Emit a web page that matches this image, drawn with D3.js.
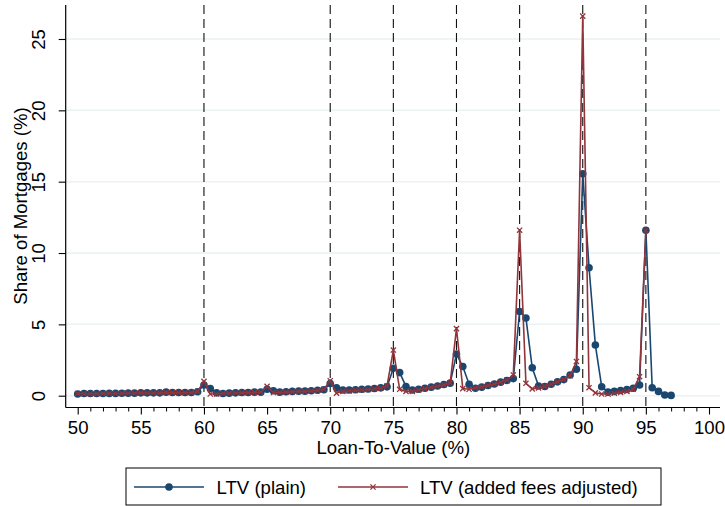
<!DOCTYPE html>
<html>
<head>
<meta charset="utf-8">
<script src="https://cdn.jsdelivr.net/npm/d3@7"></script>
<style>
  html, body { margin: 0; padding: 0; background: #fff; }
  svg { display: block; font-family: "Liberation Sans", Arial, sans-serif; }
</style>
</head>
<body>
<svg id="chart" width="725" height="506"></svg>
<script>
// ---- Data ----
const ltvPlain = [50,50.5,51,51.5,52,52.5,53,53.5,54,54.5,55,55.5,56,56.5,57,57.5,58,58.5,59,59.5,
  60,60.5,61,61.5,62,62.5,63,63.5,64,64.5,65,65.5,66,66.5,67,67.5,68,68.5,69,69.5,
  70,70.5,71,71.5,72,72.5,73,73.5,74,74.5,75,75.5,76,76.5,77,77.5,78,78.5,79,79.5,
  80,80.5,81,81.5,82,82.5,83,83.5,84,84.5,85,85.5,86,86.5,87,87.5,88,88.5,89,89.5,
  90,90.5,91,91.5,92,92.5,93,93.5,94,94.5,95,95.5,96,96.5,97];
const sharePlain = [0.12,0.15,0.15,0.15,0.15,0.16,0.16,0.17,0.18,0.18,0.2,0.2,0.2,0.2,0.25,0.22,0.22,0.22,0.22,0.28,
  0.75,0.5,0.2,0.15,0.18,0.2,0.22,0.22,0.25,0.25,0.45,0.35,0.25,0.28,0.3,0.32,0.32,0.35,0.38,0.42,
  0.85,0.55,0.4,0.4,0.42,0.45,0.47,0.5,0.55,0.62,1.92,1.62,0.65,0.4,0.45,0.52,0.6,0.68,0.78,0.88,
  2.92,2.05,0.8,0.52,0.6,0.72,0.82,0.95,1.07,1.2,5.9,5.45,1.96,0.68,0.65,0.8,0.97,1.13,1.45,1.85,
  15.55,8.97,3.55,0.63,0.25,0.3,0.36,0.43,0.52,0.75,11.6,0.56,0.3,0.05,0.02];

const ltvFees = [50,50.5,51,51.5,52,52.5,53,53.5,54,54.5,55,55.5,56,56.5,57,57.5,58,58.5,59,59.5,
  60,60.5,61,61.5,62,62.5,63,63.5,64,64.5,65,65.5,66,66.5,67,67.5,68,68.5,69,69.5,
  70,70.5,71,71.5,72,72.5,73,73.5,74,74.5,75,75.5,76,76.5,77,77.5,78,78.5,79,79.5,
  80,80.5,81,81.5,82,82.5,83,83.5,84,84.5,85,85.5,86,86.5,87,87.5,88,88.5,89,89.5,
  90,90.5,91,91.5,92,92.5,93,93.5,94,94.5,95];
const shareFees = [0.15,0.14,0.14,0.14,0.15,0.15,0.15,0.16,0.17,0.17,0.2,0.19,0.19,0.2,0.23,0.21,0.21,0.21,0.22,0.3,
  1.0,0.12,0.12,0.15,0.17,0.19,0.2,0.21,0.23,0.26,0.65,0.22,0.22,0.25,0.28,0.3,0.3,0.33,0.37,0.45,
  1.05,0.18,0.3,0.33,0.37,0.4,0.43,0.47,0.52,0.68,3.2,0.45,0.3,0.3,0.4,0.5,0.58,0.66,0.76,0.9,
  4.7,0.5,0.45,0.55,0.62,0.72,0.82,0.95,1.1,1.45,11.6,0.87,0.48,0.55,0.65,0.8,0.97,1.13,1.4,2.4,
  26.6,0.56,0.2,0.12,0.12,0.17,0.22,0.3,0.45,1.33,11.6];

const xTickValues = [50,55,60,65,70,75,80,85,90,95,100];
const xMinorTicks = [51,52,53,54,56,57,58,59,61,62,63,64,66,67,68,69,71,72,73,74,76,77,78,79,81,82,83,84,86,87,88,89,91,92,93,94,96,97,98,99];
const yTickValues = [0,5,10,15,20,25];
const refLines = [60,70,75,80,85,90,95];
const seriesNames = ["LTV (plain)", "LTV (added fees adjusted)"];
const xTitle = "Loan-To-Value (%)";
const yTitle = "Share of Mortgages (%)";

// ---- Layout ----
const BLUE = "#1a476f", RED = "#90353b", GRID = "#eaf2f3";
const FS = 18.6;
const svg = d3.select("#chart");
const axisLeftX = 65.7, axisBottomY = 407.5, plotTop = 5, plotRight = 720;

const x = d3.scaleLinear().domain([50, 100]).range([77.7, 709]);
const y = d3.scaleLinear().domain([0, 25]).range([395.7, 39]);

// gridlines
svg.append("g").selectAll("line").data(yTickValues).join("line")
  .attr("x1", axisLeftX).attr("x2", plotRight)
  .attr("y1", d => y(d)).attr("y2", d => y(d))
  .attr("stroke", GRID).attr("stroke-width", 1.5);

// reference dashed lines
svg.append("g").selectAll("line").data(refLines).join("line")
  .attr("x1", d => x(d)).attr("x2", d => x(d))
  .attr("y1", plotTop).attr("y2", axisBottomY)
  .attr("stroke", "#111").attr("stroke-width", 1.1)
  .attr("stroke-dasharray", "9,5");

// series
const plainData = ltvPlain.map((v, i) => [v, sharePlain[i]]);
const feesData = ltvFees.map((v, i) => [v, shareFees[i]]);
const line = d3.line().x(d => x(d[0])).y(d => y(d[1]));

svg.append("path").datum(plainData).attr("d", line)
  .attr("fill", "none").attr("stroke", BLUE).attr("stroke-width", 1.6);
svg.append("g").selectAll("circle").data(plainData).join("circle")
  .attr("cx", d => x(d[0])).attr("cy", d => y(d[1])).attr("r", 3.8)
  .attr("fill", BLUE);

svg.append("path").datum(feesData).attr("d", line)
  .attr("fill", "none").attr("stroke", RED).attr("stroke-width", 1.6);
const xm = 2.6;
const crossPath = (cx, cy) => `M${cx-xm},${cy-xm}L${cx+xm},${cy+xm}M${cx-xm},${cy+xm}L${cx+xm},${cy-xm}`;
svg.append("g").selectAll("path").data(feesData).join("path")
  .attr("d", d => crossPath(x(d[0]), y(d[1])))
  .attr("stroke", RED).attr("stroke-width", 1.3).attr("fill", "none");

// axes lines
svg.append("line").attr("x1", axisLeftX).attr("x2", axisLeftX)
  .attr("y1", plotTop).attr("y2", axisBottomY).attr("stroke", "#000").attr("stroke-width", 1.2);
svg.append("line").attr("x1", axisLeftX).attr("x2", plotRight)
  .attr("y1", axisBottomY).attr("y2", axisBottomY).attr("stroke", "#000").attr("stroke-width", 1.2);

// x axis major
const gx = svg.append("g").attr("transform", `translate(0,${axisBottomY})`)
  .call(d3.axisBottom(x).tickValues(xTickValues).tickSize(7).tickPadding(6).tickFormat(d3.format("d")));
gx.select(".domain").remove();
gx.selectAll("line").attr("stroke", "#000").attr("stroke-width", 1.1);
gx.selectAll("text").attr("font-size", FS).attr("fill", "#000")
  .attr("font-family", "Liberation Sans, Arial, sans-serif");

// x axis minor
const gxm = svg.append("g").attr("transform", `translate(0,${axisBottomY})`)
  .call(d3.axisBottom(x).tickValues(xMinorTicks).tickSize(4).tickFormat(""));
gxm.select(".domain").remove();
gxm.selectAll("line").attr("stroke", "#000").attr("stroke-width", 1);

// y axis
const gy = svg.append("g").attr("transform", `translate(${axisLeftX},0)`)
  .call(d3.axisLeft(y).tickValues(yTickValues).tickSize(7).tickFormat(d3.format("d")));
gy.select(".domain").remove();
gy.selectAll("line").attr("stroke", "#000").attr("stroke-width", 1.1);
gy.selectAll("text")
  .attr("font-size", FS).attr("fill", "#000")
  .attr("font-family", "Liberation Sans, Arial, sans-serif")
  .attr("x", null).attr("dy", null)
  .attr("text-anchor", "middle")
  .attr("dominant-baseline", "central")
  .attr("transform", "translate(-27,0) rotate(-90)");

// axis titles
svg.append("text").attr("x", x(75)).attr("y", 454)
  .attr("text-anchor", "middle").attr("font-size", FS).text(xTitle);
svg.append("text").attr("transform", `translate(20.5,206) rotate(-90)`)
  .attr("text-anchor", "middle").attr("dominant-baseline", "central")
  .attr("font-size", FS).text(yTitle);

// legend
const lg = svg.append("g");
lg.append("rect").attr("x", 126).attr("y", 468).attr("width", 535).attr("height", 37)
  .attr("fill", "#fff").attr("stroke", "#000").attr("stroke-width", 1);
const ly = 487;
lg.append("line").attr("x1", 134).attr("x2", 204).attr("y1", ly).attr("y2", ly)
  .attr("stroke", BLUE).attr("stroke-width", 1.6);
lg.append("circle").attr("cx", 169).attr("cy", ly).attr("r", 3.8).attr("fill", BLUE);
lg.append("text").attr("x", 216.5).attr("y", ly).attr("dominant-baseline", "central")
  .attr("font-size", FS).text(seriesNames[0]);
lg.append("line").attr("x1", 338).attr("x2", 408).attr("y1", ly).attr("y2", ly)
  .attr("stroke", RED).attr("stroke-width", 1.6);
lg.append("path").attr("d", crossPath(373, ly)).attr("stroke", RED).attr("stroke-width", 1.3);
lg.append("text").attr("x", 420).attr("y", ly).attr("dominant-baseline", "central")
  .attr("font-size", FS).text(seriesNames[1]);
</script>
</body>
</html>
